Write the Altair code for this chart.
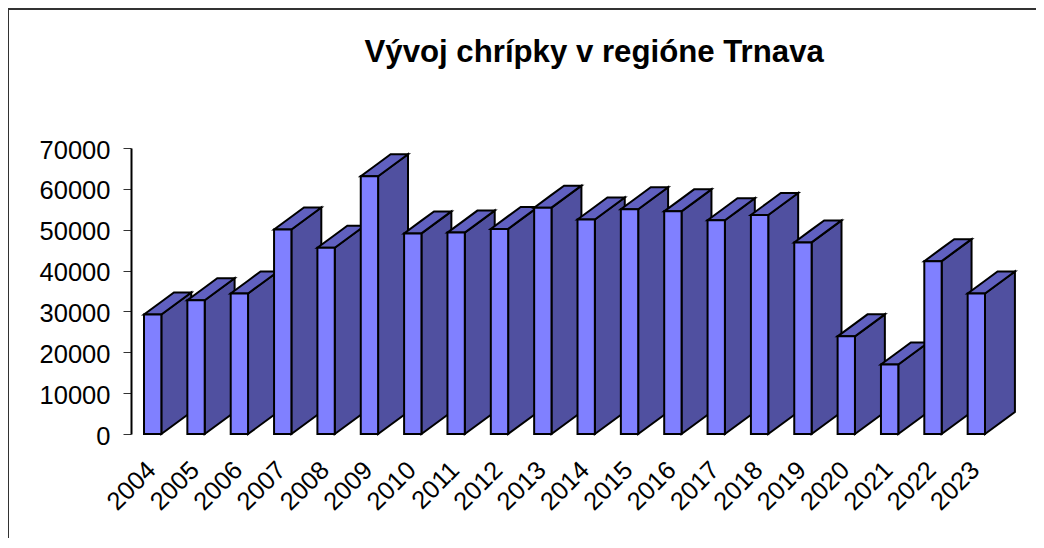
import altair as alt
import pandas as pd

years = list(range(2004, 2024))
cases = [29250, 32750, 34400, 50050, 45600, 63100, 49100, 49300, 50200, 55400,
         52500, 55000, 54500, 52300, 53600, 46900, 23900, 17000, 42300, 34400]

FRONT, SIDE, TOP = "#8080ff", "#5050a0", "#6060c0"
HALF = 0.2      # half the front width, in years
DX = 0.69       # depth, in years
DY = 5385       # depth, in cases

rows = []
for i, (yr, v) in enumerate(zip(years, cases)):
    xl, xr = yr - HALF, yr + HALF
    w = xr - xl
    s = DY * w / DX
    polys = [
        ("a", SIDE, [(xr, 0, v), (xr + DX, DY, v + DY)]),
        ("b", TOP, [(xl, v, v), (xr, v, v + s), (xl + DX, v + DY - s, v + DY), (xr + DX, v + DY, v + DY)]),
        ("c", FRONT, [(xl, 0, v), (xr, 0, v)]),
    ]
    for tag, col, pts in polys:
        for x, lo, hi in pts:
            rows.append({"id": f"{i:02d}{tag}", "fill": col, "x": x, "lo": lo, "hi": hi})
df = pd.DataFrame(rows)

x_enc = alt.X("x:Q", scale=alt.Scale(domain=[2003.5, 2023.5], nice=False, zero=False),
              axis=alt.Axis(values=years, format="d", title=None, domain=False, ticks=False, grid=False,
                            labelAngle=-45, labelAlign="right", labelBaseline="top", labelPadding=23, labelOffset=-10,
                            labelFontSize=25.5, labelFont="Liberation Sans", labelColor="black",
                            labelOverlap=False, labelBound=False, labelFlush=False))
y_enc = alt.Y("lo:Q", scale=alt.Scale(domain=[0, 70000], nice=False),
              axis=alt.Axis(values=list(range(0, 70001, 10000)), format="d", title=None, grid=False,
                            domainColor="black", domainWidth=2, tickColor="#333333", tickWidth=1, tickSize=8,
                            labelOffset=2,
                            labelFontSize=25.5, labelFont="Liberation Sans", labelColor="black", labelPadding=13))

bars = alt.Chart(df).mark_area(stroke="black", strokeWidth=2, strokeJoin="miter", opacity=1).encode(
    x=x_enc, y=y_enc, y2="hi:Q",
    fill=alt.Fill("fill:N", scale=None, legend=None),
    detail="id:N",
)
frame_l = alt.Chart(df).mark_rule(color="#333333", strokeWidth=1).encode(
    x=alt.value(-123), y=alt.value(-139), y2=alt.value(400))
frame_t = alt.Chart(df).mark_rule(color="#333333", strokeWidth=1).encode(
    x=alt.value(-123), x2=alt.value(913), y=alt.value(-139))

chart = alt.layer(frame_l, frame_t, bars).properties(
    width=867, height=286,
    autosize=alt.AutoSizeParams(type="none"),
    padding={"left": 123, "top": 140, "right": 38, "bottom": 104},
    title=alt.TitleParams("Vývoj chrípky v regióne Trnava", font="Liberation Sans", fontSize=31.2, fontWeight="bold",
                          color="black", anchor="start", dx=357, offset=-60),
).configure_view(stroke=None)

chart.save("out.html", embed_options={"renderer": "svg", "actions": False})
